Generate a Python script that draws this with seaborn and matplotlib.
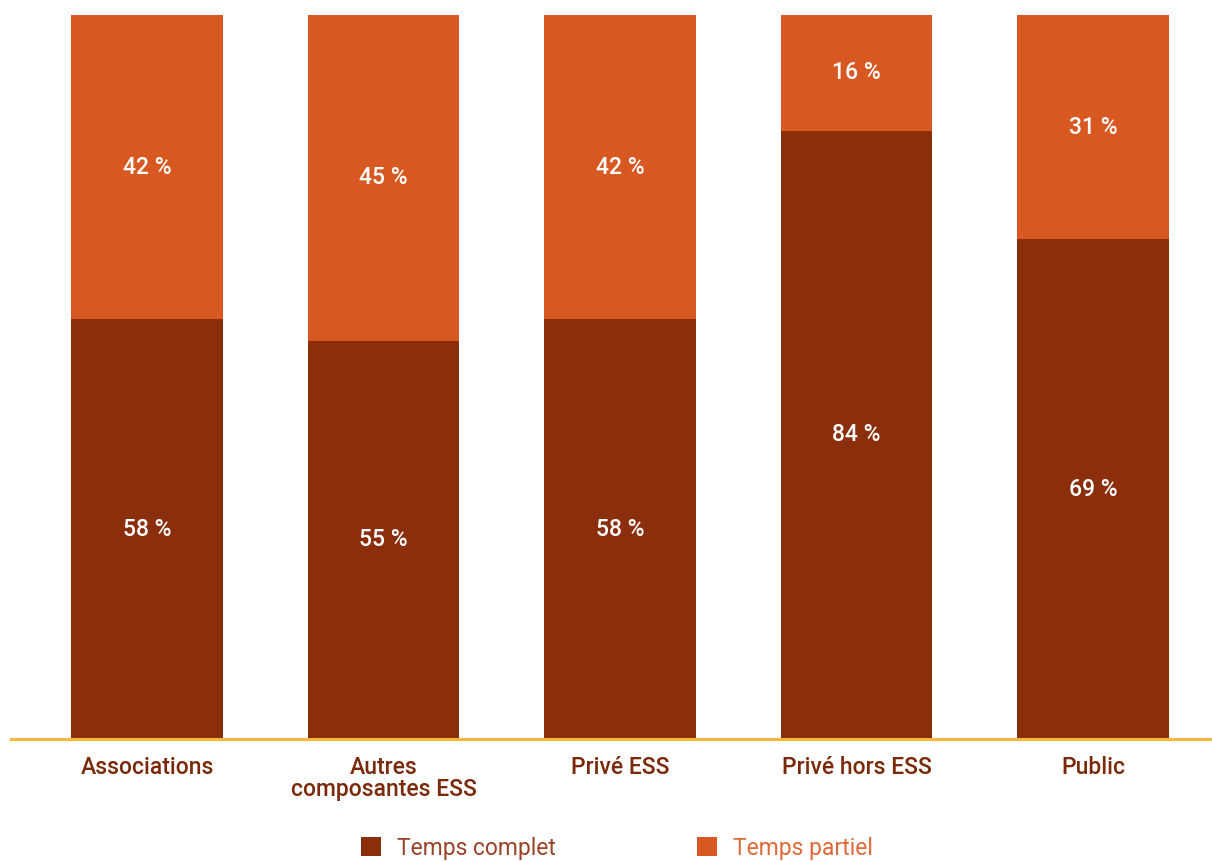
"""Temps complet / temps partiel par secteur (stacked bars)."""
import matplotlib
matplotlib.use("Agg")
import numpy as np
import pandas as pd
import matplotlib.pyplot as plt
import seaborn as sns

categories = ["Associations", "Autres\ncomposantes ESS", "Privé ESS",
              "Privé hors ESS", "Public"]
temps_complet = [58, 55, 58, 84, 69]
temps_partiel = [42, 45, 42, 16, 31]

C_COMPLET = "#8B2E0C"
C_PARTIEL = "#D75820"
C_LINE = "#F6B73C"
C_TEXT = "#7A2A0A"

sns.set_theme(style="white")
plt.rcParams["font.family"] = ["Roboto", "DejaVu Sans"]

df = pd.DataFrame({"secteur": categories,
                   "complet": temps_complet,
                   "partiel": temps_partiel})
df["total"] = df["complet"] + df["partiel"]

fig = plt.figure(figsize=(12.12, 8.61), dpi=100)
ax = fig.add_axes([11 / 1212, 122 / 861, 1 - 11 / 1212, 724 / 861])

sns.barplot(data=df, x="secteur", y="total", color=C_PARTIEL, width=0.642,
            saturation=1, linewidth=0, ax=ax)
sns.barplot(data=df, x="secteur", y="complet", color=C_COMPLET, width=0.642,
            saturation=1, linewidth=0, ax=ax)

bars_total, bars_complet = ax.containers[0], ax.containers[1]
for rect, c, p in zip(bars_total, temps_complet, temps_partiel):
    x = rect.get_x() + rect.get_width() / 2
    ax.text(x, c + p / 2, f"{p} %", ha="center", va="center", color="white",
            fontsize=16.5, fontweight="medium")
for rect, c in zip(bars_complet, temps_complet):
    x = rect.get_x() + rect.get_width() / 2
    ax.text(x, c / 2, f"{c} %", ha="center", va="center", color="white",
            fontsize=16.5, fontweight="medium")

ax.set_ylim(0, 100)
ax.set_xlim(-0.575, 4.503)
ax.set_xlabel(""); ax.set_ylabel("")
ax.set_yticks([])
sns.despine(ax=ax, left=True, top=True, right=True)
ax.spines["bottom"].set_color(C_LINE)
ax.spines["bottom"].set_linewidth(2.2)
ax.spines["bottom"].set_zorder(5)
ax.tick_params(axis="x", length=0, pad=12)
for lab in ax.get_xticklabels():
    lab.set_color(C_TEXT); lab.set_fontsize(16.5); lab.set_fontweight("medium")
    lab.set_verticalalignment("top"); lab.set_linespacing(0.95)

# legend
handles = [plt.Rectangle((0, 0), 1, 1, color=C_COMPLET, lw=0),
           plt.Rectangle((0, 0), 1, 1, color=C_PARTIEL, lw=0)]
leg = fig.legend(handles, ["Temps complet", "Temps partiel"], loc="center",
                 bbox_to_anchor=(617 / 1212, 1 - 848 / 861), ncol=2,
                 frameon=False, fontsize=16.5, handlelength=0.85,
                 handleheight=0.85, handletextpad=0.7, columnspacing=6.2)
for t, col in zip(leg.get_texts(), ["#9A4328", "#E0693A"]):
    t.set_color(col); t.set_fontweight("normal")

fig.savefig("out.png", dpi=100)
